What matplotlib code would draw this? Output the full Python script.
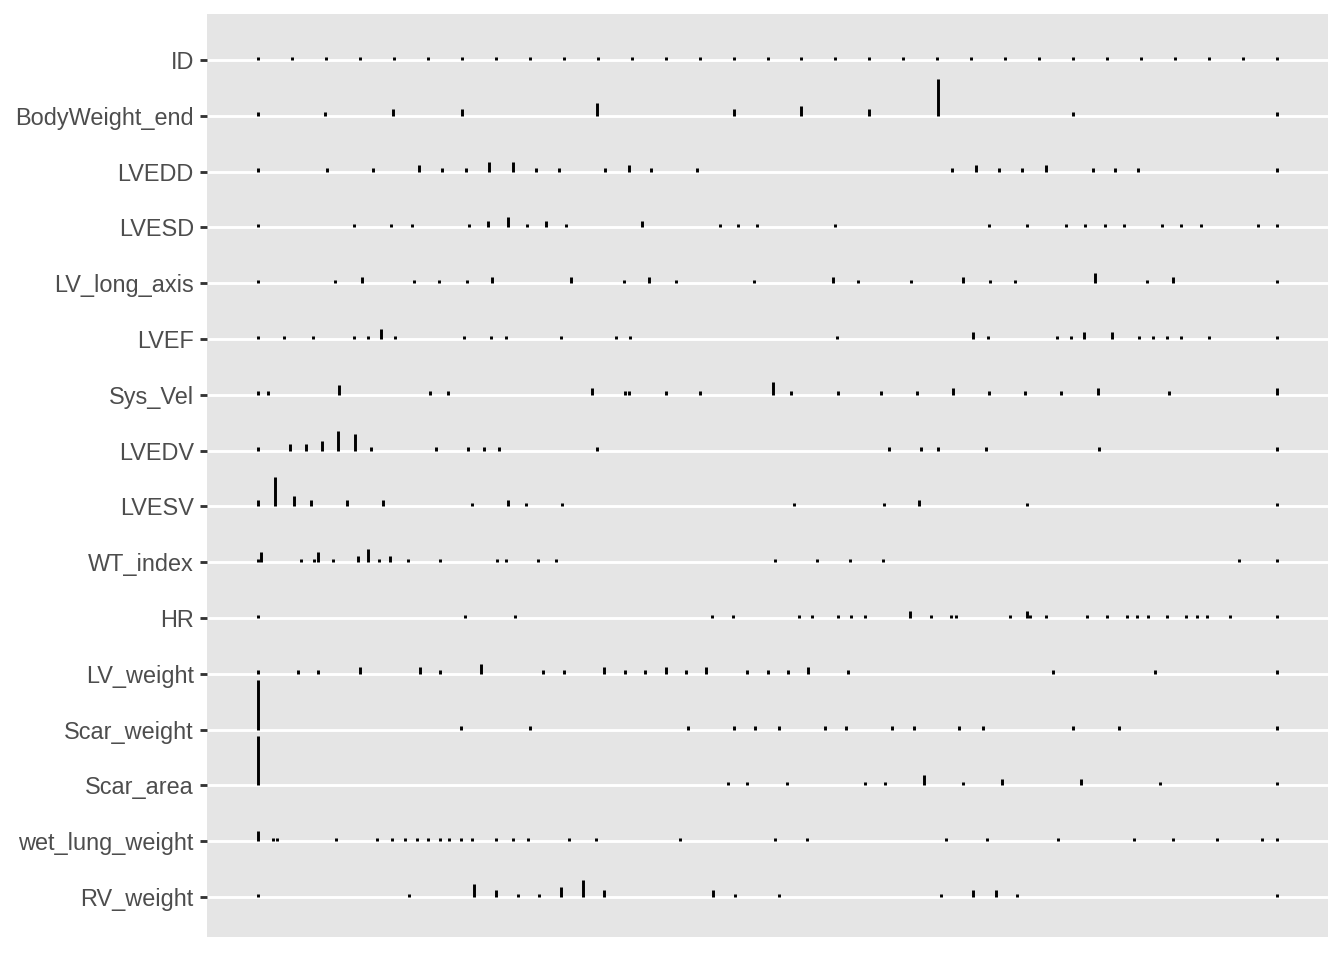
import matplotlib
matplotlib.use("Agg")
import matplotlib.pyplot as plt
import numpy as np

variables = ["ID", "BodyWeight_end", "LVEDD", "LVESD", "LV_long_axis", "LVEF",
             "Sys_Vel", "LVEDV", "LVESV", "WT_index", "HR", "LV_weight",
             "Scar_weight", "Scar_area", "wet_lung_weight", "RV_weight"]

# unique values (scaled to 0-1 within each variable) and their counts
id_vals = [1, 2, 3, 4, 5, 6, 7, 8, 9, 10, 11, 12, 13, 14, 15, 16, 17, 18, 19, 20,
           21, 22, 23, 24, 25, 26, 27, 28, 29, 30, 31]
id_cnt = [1] * 31

bw_vals = [0, 0.066, 0.133, 0.2, 0.333, 0.467, 0.533, 0.6, 0.667, 0.8, 1]
bw_cnt = [1, 1, 2, 2, 4, 2, 3, 2, 11, 1, 1]

lvedd_vals = [0, 0.068, 0.113, 0.158, 0.181, 0.204, 0.227, 0.25, 0.273, 0.295, 0.341,
              0.364, 0.386, 0.431, 0.681, 0.705, 0.727, 0.75, 0.773, 0.819, 0.841, 0.864, 1]
lvedd_cnt = [1, 1, 1, 2, 1, 1, 3, 3, 1, 1, 1, 2, 1, 1, 1, 2, 1, 1, 2, 1, 1, 1, 1]

lvesd_vals = [0, 0.094, 0.131, 0.151, 0.207, 0.226, 0.245, 0.264, 0.283, 0.302, 0.377,
              0.453, 0.471, 0.49, 0.566, 0.717, 0.755, 0.793, 0.812, 0.831, 0.85, 0.887,
              0.906, 0.925, 0.981, 1]
lvesd_cnt = [1, 1, 1, 1, 1, 2, 3, 1, 2, 1, 2, 1, 1, 1, 1, 1, 1, 1, 1, 1, 1, 1, 1, 1, 1, 1]

lla_vals = [0, 0.076, 0.102, 0.153, 0.178, 0.205, 0.23, 0.307, 0.359, 0.384, 0.41, 0.487,
            0.564, 0.589, 0.641, 0.692, 0.718, 0.743, 0.821, 0.872, 0.898, 1]
lla_cnt = [1, 1, 2, 1, 1, 1, 2, 2, 1, 2, 1, 1, 2, 1, 1, 2, 1, 1, 3, 1, 2, 1]

lvef_vals = [0, 0.026, 0.054, 0.094, 0.108, 0.121, 0.134, 0.202, 0.229, 0.243, 0.297,
             0.351, 0.365, 0.568, 0.702, 0.716, 0.784, 0.798, 0.811, 0.838, 0.865, 0.878,
             0.892, 0.906, 0.933, 1]
lvef_cnt = [1, 1, 1, 1, 1, 3, 1, 1, 1, 1, 1, 1, 1, 1, 2, 1, 1, 1, 2, 2, 1, 1, 1, 1, 1, 1]

sysvel_vals = [0, 0.01, 0.08, 0.169, 0.186, 0.328, 0.36, 0.364, 0.4, 0.434, 0.505, 0.523,
               0.569, 0.611, 0.647, 0.682, 0.717, 0.753, 0.788, 0.824, 0.894, 1]
sysvel_cnt = [1, 1, 3, 1, 1, 2, 1, 1, 1, 1, 4, 1, 1, 1, 1, 2, 1, 1, 1, 2, 1, 2]

lvedv_vals = [0, 0.031, 0.047, 0.063, 0.079, 0.095, 0.111, 0.175, 0.206, 0.222, 0.237,
              0.333, 0.619, 0.651, 0.667, 0.714, 0.825, 1]
lvedv_cnt = [1, 2, 2, 3, 6, 5, 1, 1, 1, 1, 1, 1, 1, 1, 1, 1, 1, 1]

lvesv_vals = [0, 0.017, 0.035, 0.052, 0.087, 0.123, 0.21, 0.245, 0.263, 0.298, 0.526,
              0.614, 0.649, 0.755, 1]
lvesv_cnt = [2, 9, 3, 2, 2, 2, 1, 2, 1, 1, 1, 1, 2, 1, 1]

wt_vals = [0, 0.003, 0.042, 0.055, 0.059, 0.074, 0.098, 0.108, 0.119, 0.13, 0.147, 0.179,
           0.235, 0.243, 0.275, 0.292, 0.507, 0.549, 0.581, 0.613, 0.963, 1]
wt_cnt = [1, 3, 1, 1, 3, 1, 2, 4, 1, 2, 1, 1, 1, 1, 1, 1, 1, 1, 1, 1, 1, 1]

hr_vals = [0, 0.203, 0.252, 0.446, 0.466, 0.531, 0.544, 0.569, 0.582, 0.596, 0.64, 0.66,
           0.68, 0.685, 0.738, 0.755, 0.758, 0.773, 0.814, 0.833, 0.853, 0.863, 0.873,
           0.892, 0.911, 0.921, 0.931, 0.954, 1]
hr_cnt = [1, 1, 1, 1, 1, 1, 1, 1, 1, 1, 2, 1, 1, 1, 1, 2, 1, 1, 1, 1, 1, 1, 1, 1, 1, 1, 1, 1, 1]

lvw_vals = [0, 0.039, 0.059, 0.1, 0.159, 0.179, 0.219, 0.28, 0.3, 0.34, 0.36, 0.38, 0.4,
            0.42, 0.44, 0.48, 0.5, 0.52, 0.54, 0.579, 0.78, 0.88, 1]
lvw_cnt = [1, 1, 1, 2, 2, 1, 3, 1, 1, 2, 1, 1, 2, 1, 2, 1, 1, 1, 2, 1, 1, 1, 1]

scarw_vals = [0, 0.199, 0.267, 0.422, 0.467, 0.488, 0.511, 0.556, 0.577, 0.622, 0.644,
              0.688, 0.711, 0.8, 0.845, 1]
scarw_cnt = [15, 1, 1, 1, 1, 1, 1, 1, 1, 1, 1, 1, 1, 1, 1, 1]

scara_vals = [0, 0.461, 0.48, 0.519, 0.596, 0.615, 0.654, 0.692, 0.73, 0.808, 0.885, 1]
scara_cnt = [15, 1, 1, 1, 1, 1, 3, 1, 2, 2, 1, 1]

wlw_vals = [0, 0.015, 0.019, 0.077, 0.117, 0.132, 0.144, 0.156, 0.167, 0.179, 0.187,
            0.199, 0.21, 0.234, 0.25, 0.265, 0.305, 0.332, 0.414, 0.507, 0.539, 0.675,
            0.715, 0.785, 0.86, 0.898, 0.941, 0.985, 1]
wlw_cnt = [3] + [1] * 28

rvw_vals = [0, 0.148, 0.212, 0.234, 0.255, 0.276, 0.297, 0.319, 0.34, 0.447, 0.468, 0.511,
            0.67, 0.702, 0.724, 0.745, 1]
rvw_cnt = [1, 1, 4, 2, 1, 1, 3, 5, 2, 2, 1, 1, 1, 2, 2, 1, 1]

series = [(id_vals, id_cnt), (bw_vals, bw_cnt), (lvedd_vals, lvedd_cnt),
          (lvesd_vals, lvesd_cnt), (lla_vals, lla_cnt), (lvef_vals, lvef_cnt),
          (sysvel_vals, sysvel_cnt), (lvedv_vals, lvedv_cnt), (lvesv_vals, lvesv_cnt),
          (wt_vals, wt_cnt), (hr_vals, hr_cnt), (lvw_vals, lvw_cnt),
          (scarw_vals, scarw_cnt), (scara_vals, scara_cnt), (wlw_vals, wlw_cnt),
          (rvw_vals, rvw_cnt)]

fig = plt.figure(figsize=(7, 5), dpi=192)
ax = fig.add_axes([207 / 1344, 1 - 937 / 960, (1328 - 207) / 1344, (937 - 14) / 960])
ax.set_facecolor("#E5E5E5")

nrow = len(variables)
unit = 0.0595  # height of one count, in row units
for i, (vals, cnt) in enumerate(series):
    v = np.asarray(vals, dtype=float)
    v = (v - v.min()) / (v.max() - v.min())
    base = nrow - i
    ax.vlines(v, base, base + np.asarray(cnt) * unit, colors="black",
              linewidth=1.1, zorder=3)

ax.set_xlim(-0.05, 1.05)
ax.set_ylim(1 - 40 / 55.8, nrow + 46 / 55.8)
ax.set_yticks(np.arange(nrow, 0, -1))
ax.set_yticklabels(variables, fontsize=8.8, color="#4D4D4D", family="Liberation Sans")
ax.set_xticks([])
ax.yaxis.grid(True, color="white", linewidth=1.07, zorder=1)
ax.set_axisbelow(True)
ax.tick_params(axis="y", length=2.75, width=1.07, color="#333333", pad=2.2)
for s in ax.spines.values():
    s.set_visible(False)

fig.savefig("out.png", dpi=192)
